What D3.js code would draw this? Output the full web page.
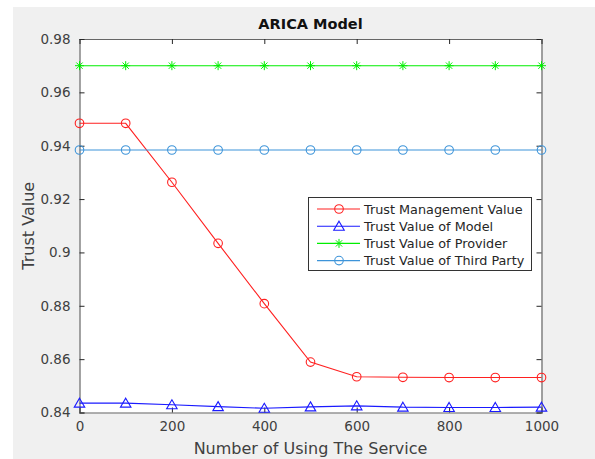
<!DOCTYPE html>
<html><head><meta charset="utf-8">
<script src="https://cdn.jsdelivr.net/npm/d3@7"></script>
<style>body{margin:0;background:#fff}svg{display:block;font-family:"DejaVu Sans",sans-serif}</style>
</head><body><svg id="c" width="595" height="459"></svg>
<script>
const xs = [0,100,200,300,400,500,600,700,800,900,1000];
const trustManagement = [0.9484,0.9484,0.9263,0.9034,0.8808,0.8589,0.8534,0.8532,0.8531,0.8531,0.8531];
const trustModel = [0.8435,0.8435,0.8429,0.8422,0.8416,0.8421,0.8425,0.8420,0.8419,0.8419,0.8420];
const trustProvider = [0.97,0.97,0.97,0.97,0.97,0.97,0.97,0.97,0.97,0.97,0.97];
const trustThirdParty = [0.9384,0.9384,0.9384,0.9384,0.9384,0.9384,0.9384,0.9384,0.9384,0.9384,0.9384];
const seriesNames = ["Trust Management Value","Trust Value of Model","Trust Value of Provider","Trust Value of Third Party"];
const xTicks = [0,200,400,600,800,1000];
const yTicks = [0.84,0.86,0.88,0.9,0.92,0.94,0.96,0.98];

const svg = d3.select("#c");
svg.append("rect").attr("x",13).attr("y",7).attr("width",582).attr("height",452).attr("fill","#f0f0f0");
const L=79.5,R=541.5,T=39,B=412.5;
const x = d3.scaleLinear().domain([0,1000]).range([L,R]);
const y = d3.scaleLinear().domain([0.84,0.98]).range([B,T]);
svg.append("rect").attr("x",L).attr("y",T).attr("width",R-L).attr("height",B-T).attr("fill","#fff");

const axCol="#262626";
const fmt = d=>String(+d.toFixed(2));
const gx = svg.append("g").attr("transform",`translate(0,${B})`).call(d3.axisBottom(x).tickValues(xTicks).tickSize(-5).tickPadding(9).tickFormat(d3.format("d")));
const gxt = svg.append("g").attr("transform",`translate(0,${T})`).call(d3.axisTop(x).tickValues(xTicks).tickSize(-5).tickFormat(""));
const gy = svg.append("g").attr("transform",`translate(${L},0)`).call(d3.axisLeft(y).tickValues(yTicks).tickSize(-5).tickPadding(9).tickFormat(fmt));
const gyr = svg.append("g").attr("transform",`translate(${R},0)`).call(d3.axisRight(y).tickValues(yTicks).tickSize(-5).tickFormat(""));
[gx,gxt,gy,gyr].forEach(g=>{
  g.selectAll("path").attr("stroke","#666").attr("stroke-width",1.2);
  g.selectAll("line").attr("stroke",axCol);
  g.selectAll("text").attr("fill","#404040").attr("font-size",13.5).attr("font-family","DejaVu Sans, sans-serif");
});

const series = [
  {vals:trustManagement,color:"#ff2020",marker:"circle"},
  {vals:trustModel,color:"#1a1aff",marker:"triangle"},
  {vals:trustProvider,color:"#00ee00",marker:"star"},
  {vals:trustThirdParty,color:"#3d94d9",marker:"circle"}
];
function drawMarker(g,type,cx,cy,color){
  if(type==="circle") g.append("circle").attr("cx",cx).attr("cy",cy).attr("r",4.3).attr("fill","none").attr("stroke",color).attr("stroke-width",1.1);
  else if(type==="triangle"){
    const s=5;
    g.append("path").attr("d",`M${cx},${cy-s}L${cx+s*1.05},${cy+s*0.8}L${cx-s*1.05},${cy+s*0.8}Z`).attr("fill","none").attr("stroke",color).attr("stroke-width",1.1);
  } else {
    const s=4.5;
    let d=`M${cx-s},${cy}L${cx+s},${cy}M${cx},${cy-s}L${cx},${cy+s}M${cx-s*0.7},${cy-s*0.7}L${cx+s*0.7},${cy+s*0.7}M${cx-s*0.7},${cy+s*0.7}L${cx+s*0.7},${cy-s*0.7}`;
    g.append("path").attr("d",d).attr("stroke",color).attr("stroke-width",1).attr("fill","none");
  }
}
const line = d3.line().x((d,i)=>x(xs[i])).y(d=>y(d));
series.forEach(s=>{
  svg.append("path").datum(s.vals).attr("d",line).attr("fill","none").attr("stroke",s.color).attr("stroke-width",1.1);
  const g=svg.append("g");
  s.vals.forEach((v,i)=>drawMarker(g,s.marker,x(xs[i]),y(v),s.color));
});

// legend
const lx=308.5,ly=197.5,lw=223,lh=73;
svg.append("rect").attr("x",lx).attr("y",ly).attr("width",lw).attr("height",lh).attr("fill","#fff").attr("stroke","#333").attr("stroke-width",1);
series.forEach((s,i)=>{
  const cy=ly+11.5+i*17.2;
  const g=svg.append("g");
  g.append("line").attr("x1",lx+8.5).attr("x2",lx+51.5).attr("y1",cy).attr("y2",cy).attr("stroke",s.color).attr("stroke-width",1.1);
  drawMarker(g,s.marker,lx+30.5,cy,s.color);
  g.append("text").attr("x",lx+55.5).attr("y",cy+4.5).attr("font-size",12.8).attr("fill","#262626").text(seriesNames[i]);
});

svg.append("text").attr("x",(L+R)/2).attr("y",29).attr("text-anchor","middle").attr("font-weight","bold").attr("font-size",14.5).attr("fill","#111").text("ARICA Model");
svg.append("text").attr("x",(L+R)/2).attr("y",454).attr("text-anchor","middle").attr("font-size",16).attr("fill","#404040").text("Number of Using The Service");
svg.append("text").attr("transform",`translate(34,${(T+B)/2}) rotate(-90)`).attr("text-anchor","middle").attr("font-size",16).attr("fill","#404040").text("Trust Value");
</script></body></html>
